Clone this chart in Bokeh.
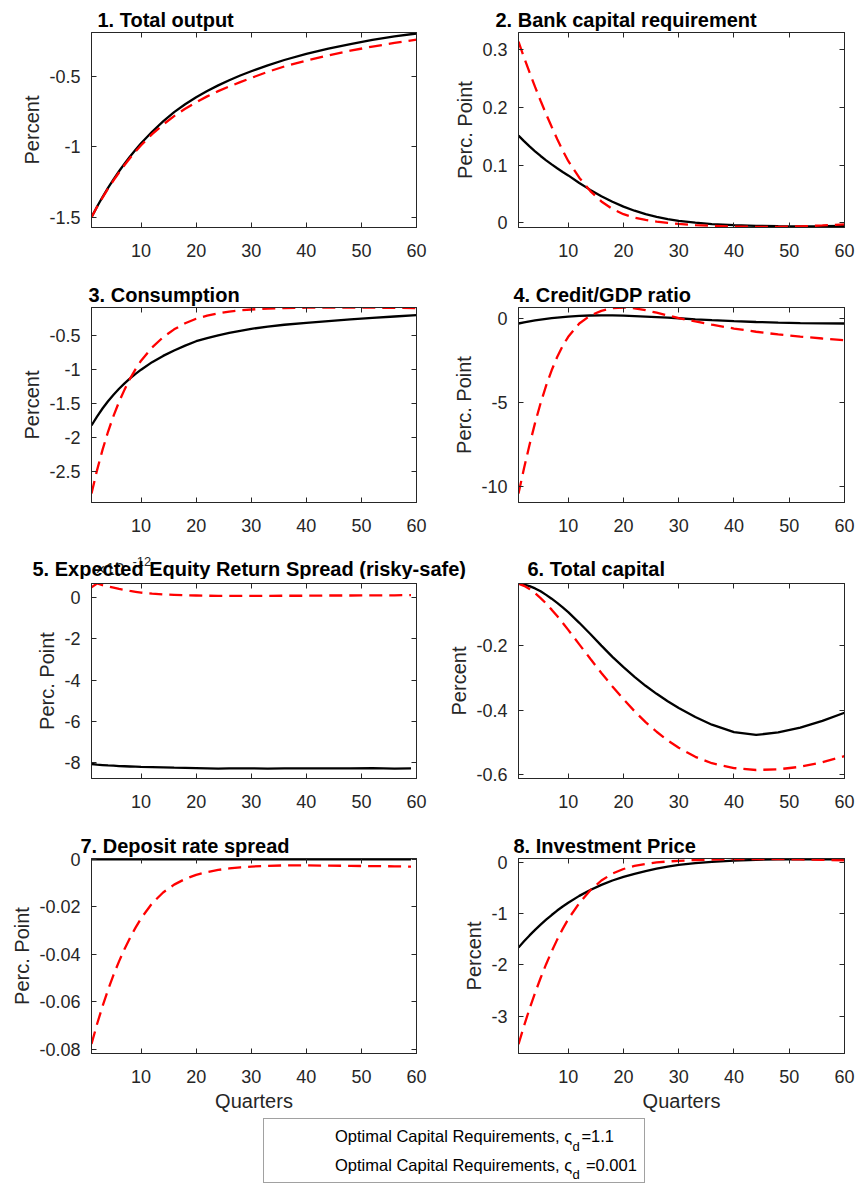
from bokeh.plotting import figure
from bokeh.models import Range1d, LinearAxis, FixedTicker, Legend, LegendItem, Label
from bokeh.layouts import column, row
from bokeh.embed import file_html
from bokeh.resources import INLINE

# ---------------- data ----------------
quarters = [1, 2, 3, 4, 5, 6, 7, 8, 9, 10, 12, 14, 16, 18, 20, 22, 24, 26, 28, 30,
            33, 36, 40, 44, 48, 52, 56, 60]
quarters_to59 = [1, 2, 3, 4, 5, 6, 7, 8, 9, 10, 12, 14, 16, 18, 20, 22, 24, 26, 28, 30,
                 33, 36, 40, 44, 48, 52, 56, 59]

output_b = [-1.5, -1.426, -1.357, -1.292, -1.231, -1.174, -1.12, -1.069, -1.021, -0.976,
            -0.894, -0.82, -0.755, -0.699, -0.649, -0.605, -0.565, -0.529, -0.495, -0.465,
            -0.423, -0.385, -0.342, -0.305, -0.272, -0.243, -0.218, -0.197]
output_r = [-1.5, -1.428, -1.361, -1.298, -1.239, -1.183, -1.13, -1.08, -1.033, -0.99,
            -0.911, -0.843, -0.783, -0.731, -0.684, -0.643, -0.606, -0.573, -0.542, -0.512,
            -0.469, -0.431, -0.389, -0.352, -0.319, -0.29, -0.264, -0.24]

capreq_b = [0.151, 0.1412, 0.1321, 0.1236, 0.1156, 0.1081, 0.101, 0.0943, 0.088, 0.082,
            0.069, 0.057, 0.046, 0.0365, 0.028, 0.021, 0.015, 0.0105, 0.0065, 0.0035, 0.0003,
            -0.002, -0.004, -0.0052, -0.0058, -0.006, -0.0058, -0.0053]
capreq_r = [0.313, 0.286, 0.26, 0.235, 0.211, 0.188, 0.166, 0.145, 0.125, 0.107, 0.078,
            0.055, 0.037, 0.024, 0.015, 0.009, 0.005, 0.002, 0.0, -0.0018, -0.0038, -0.0052,
            -0.0064, -0.0069, -0.0068, -0.006, -0.0045, -0.0025]

cons_b = [-1.823, -1.692, -1.574, -1.467, -1.371, -1.284, -1.205, -1.132, -1.066, -1.005,
          -0.895, -0.803, -0.723, -0.652, -0.588, -0.542, -0.502, -0.467, -0.435, -0.407,
          -0.373, -0.347, -0.32, -0.293, -0.269, -0.247, -0.226, -0.206]
cons_r = [-2.82, -2.48, -2.18, -1.915, -1.682, -1.477, -1.297, -1.137, -0.997, -0.874,
          -0.679, -0.529, -0.414, -0.325, -0.259, -0.214, -0.18, -0.154, -0.135, -0.123,
          -0.11, -0.102, -0.097, -0.095, -0.095, -0.096, -0.099, -0.102]

credit_b = [-0.3, -0.235, -0.175, -0.12, -0.07, -0.025, 0.015, 0.05, 0.08, 0.106, 0.15, 0.175,
            0.183, 0.178, 0.163, 0.14, 0.112, 0.08, 0.046, 0.012, -0.05, -0.1, -0.16, -0.21,
            -0.25, -0.275, -0.29, -0.3]
credit_r = [-10.4, -8.9, -7.5, -6.2, -5.03, -3.99, -3.08, -2.29, -1.63, -1.09, -0.3, 0.18,
            0.45, 0.62, 0.65, 0.6, 0.49, 0.34, 0.18, 0.02, -0.18, -0.37, -0.6, -0.79, -0.95,
            -1.08, -1.19, -1.29]

# expected equity return spread, in units of 1e-12
spread_b = [-8.05, -8.08, -8.1, -8.12, -8.13, -8.15, -8.16, -8.17, -8.18, -8.19, -8.2, -8.21,
            -8.23, -8.24, -8.25, -8.26, -8.27, -8.26, -8.26, -8.26, -8.27, -8.26, -8.26, -8.26,
            -8.26, -8.25, -8.27, -8.26]
spread_r = [0.48, 0.66, 0.58, 0.52, 0.46, 0.4, 0.35, 0.3, 0.26, 0.22, 0.17, 0.13, 0.11, 0.09,
            0.08, 0.07, 0.06, 0.06, 0.06, 0.06, 0.06, 0.07, 0.07, 0.08, 0.08, 0.09, 0.09, 0.1]

capital_b = [-0.006, -0.009, -0.014, -0.021, -0.03, -0.041, -0.053, -0.066, -0.08, -0.095,
             -0.128, -0.163, -0.199, -0.234, -0.266, -0.296, -0.324, -0.349, -0.372, -0.393,
             -0.421, -0.445, -0.468, -0.477, -0.469, -0.454, -0.433, -0.408]
capital_r = [-0.006, -0.013, -0.023, -0.036, -0.051, -0.068, -0.087, -0.107, -0.128, -0.15,
             -0.195, -0.24, -0.284, -0.326, -0.366, -0.403, -0.437, -0.467, -0.494, -0.517,
             -0.545, -0.565, -0.58, -0.586, -0.584, -0.576, -0.562, -0.543]

deposit_b = [0.0] * 28
deposit_r = [-0.0777, -0.0694, -0.0618, -0.0549, -0.0486, -0.0429, -0.0377, -0.033, -0.0287,
             -0.0248, -0.0185, -0.0139, -0.0106, -0.0082, -0.0065, -0.0053, -0.0044, -0.0038,
             -0.0033, -0.003, -0.0027, -0.0025, -0.0025, -0.0026, -0.0027, -0.0028, -0.0029,
             -0.003]

invprice_b = [-1.66, -1.538, -1.423, -1.315, -1.213, -1.116, -1.024, -0.937, -0.858, -0.785,
              -0.65, -0.535, -0.435, -0.35, -0.28, -0.22, -0.165, -0.12, -0.08, -0.045, -0.01,
              0.015, 0.04, 0.055, 0.062, 0.065, 0.065, 0.063]
invprice_r = [-3.55, -3.19, -2.855, -2.545, -2.255, -1.985, -1.735, -1.505, -1.295, -1.105,
              -0.79, -0.54, -0.35, -0.215, -0.125, -0.065, -0.025, 0.003, 0.022, 0.035, 0.05,
              0.06, 0.067, 0.07, 0.068, 0.062, 0.053, 0.042]

titles = ["1. Total output", "2. Bank capital requirement", "3. Consumption",
          "4. Credit/GDP ratio", "5. Expected Equity Return Spread (risky-safe)",
          "6. Total capital", "7. Deposit rate spread", "8. Investment Price"]
ylabels = ["Percent", "Perc. Point", "Percent", "Perc. Point", "Perc. Point", "Percent",
           "Perc. Point", "Percent"]
xlabel = "Quarters"
x_ticks = [10, 20, 30, 40, 50, 60]
x_tick_labels = ["10", "20", "30", "40", "50", "60"]
y_ticks = [[-1.5, -1, -0.5], [0, 0.1, 0.2, 0.3], [-2.5, -2, -1.5, -1, -0.5], [-10, -5, 0],
           [-8, -6, -4, -2, 0], [-0.6, -0.4, -0.2], [-0.08, -0.06, -0.04, -0.02, 0],
           [-3, -2, -1, 0]]
y_tick_labels = [["-1.5", "-1", "-0.5"], ["0", "0.1", "0.2", "0.3"],
                 ["-2.5", "-2", "-1.5", "-1", "-0.5"], ["-10", "-5", "0"],
                 ["-8", "-6", "-4", "-2", "0"], ["-0.6", "-0.4", "-0.2"],
                 ["-0.08", "-0.06", "-0.04", "-0.02", "0"], ["-3", "-2", "-1", "0"]]
y_limits = [(-1.573, -0.19), (-0.008, 0.329), (-2.951, -0.094), (-10.93, 0.65),
            (-8.75, 0.66), (-0.6125, -0.0057), (-0.0817, 0.0004), (-3.73, 0.08)]
x_limits = (1, 60)
legend_labels = ["Optimal Capital Requirements, \u03c2  =1.1",
                 "Optimal Capital Requirements, \u03c2   =0.001"]
legend_subscript = "d"
exponent_text = ("\u00d710", "-12")

series = [(quarters, output_b, output_r), (quarters, capreq_b, capreq_r),
          (quarters, cons_b, cons_r), (quarters, credit_b, credit_r),
          (quarters_to59, spread_b, spread_r), (quarters, capital_b, capital_r),
          (quarters_to59, deposit_b, deposit_r), (quarters, invprice_b, invprice_r)]

# ---------------- style / layout ----------------
FONT = "Liberation Sans"
AX = "#262626"
TITLE_X = [97, 495, 88, 513, 32, 527, 80, 513]   # page x of each title's left edge
COL_X = [0, 430]
COL_W = [430, 425]
COL_LEFT = [91, 88]
COL_RIGHT = [14, 11]
PANEL_TOP = [32, 28, 4, 28]
STRIP3_H = 25          # title strip above row 3 (its long title spans both columns)
FRAME_H = 195
PANEL_BOTTOM = [52, 52, 52, 62]
LEG_H = 68
LW = 2.3
DASH = "13 7"
BASELINE_SHIFT = 7     # label y -> alphabetic baseline correction
TITLE_STANDOFF = 4


def make_panel(i):
    col = i % 2
    rw = i // 2
    h = PANEL_TOP[rw] + FRAME_H + PANEL_BOTTOM[rw]
    kw = {}
    if rw != 2:
        kw["title"] = titles[i]
    p = figure(width=COL_W[col], height=h, x_range=Range1d(*x_limits),
               y_range=Range1d(*y_limits[i]), output_backend="svg", toolbar_location=None,
               min_border_left=COL_LEFT[col], min_border_right=COL_RIGHT[col],
               min_border_top=PANEL_TOP[rw], min_border_bottom=PANEL_BOTTOM[rw], **kw)
    if rw != 2:
        p.title.align = "left"
        p.title.offset = TITLE_X[i] - (COL_X[col] + COL_LEFT[col])
        p.title.text_font = FONT
        p.title.text_font_size = "20px"
        p.title.text_font_style = "bold"
        p.title.text_color = "black"
        p.title.standoff = TITLE_STANDOFF
    p.grid.visible = False
    p.outline_line_color = AX
    p.outline_line_alpha = 1
    p.background_fill_color = "white"
    p.border_fill_color = "white"

    xs, yb, yr = series[i]
    p.line(xs, yb, line_color="black", line_width=LW)
    p.line(xs, yr, line_color="red", line_width=LW, line_dash=DASH)

    xa = p.xaxis[0]
    xa.ticker = FixedTicker(ticks=x_ticks)
    xa.major_label_overrides = dict(zip(x_ticks, x_tick_labels))
    ya = p.yaxis[0]
    ya.ticker = FixedTicker(ticks=y_ticks[i])
    ya.major_label_overrides = dict(zip(y_ticks[i], y_tick_labels[i]))
    ya.axis_label = ylabels[i]
    if rw == 3:
        xa.axis_label = xlabel
    for ax in (xa, ya):
        ax.major_tick_in = 5
        ax.major_tick_out = 0
        ax.minor_tick_line_color = None
        ax.axis_line_color = AX
        ax.major_tick_line_color = AX
        ax.major_label_text_font = FONT
        ax.major_label_text_font_size = "18px"
        ax.major_label_text_color = AX
        ax.axis_label_text_font = FONT
        ax.axis_label_text_font_size = "20px"
        ax.axis_label_text_font_style = "normal"
        ax.axis_label_text_color = AX
    ya.major_label_standoff = 11
    ya.axis_label_standoff = 3
    xa.major_label_standoff = 16
    xa.axis_label_standoff = 4

    for ticks, side in ((y_ticks[i], "right"), (x_ticks, "above")):
        mirror = LinearAxis(ticker=FixedTicker(ticks=ticks), major_label_text_font_size="1px",
                            major_label_text_color=None, major_label_standoff=0,
                            major_tick_in=5, major_tick_out=0, minor_tick_line_color=None,
                            axis_line_color=AX, major_tick_line_color=AX)
        p.add_layout(mirror, side)
    return p


def make_strip():
    s = figure(width=sum(COL_W), height=STRIP3_H, output_backend="svg",
               toolbar_location=None, x_axis_type=None, y_axis_type=None, min_border=0,
               x_range=Range1d(0, 1), y_range=Range1d(0, 1))
    s.grid.visible = False
    s.outline_line_color = None
    s.add_layout(Label(x=95, y=10, x_units="screen", y_units="screen",
                       text=exponent_text[0], text_font=FONT, text_font_size="17px",
                       text_color=AX, text_baseline="alphabetic"))
    s.add_layout(Label(x=132, y=18, x_units="screen", y_units="screen",
                       text=exponent_text[1], text_font=FONT, text_font_size="13px",
                       text_color=AX, text_baseline="alphabetic"))
    for i in (4, 5):
        s.add_layout(Label(x=TITLE_X[i], y=PANEL_TOP[2] + BASELINE_SHIFT, x_units="screen",
                           y_units="screen", text=titles[i], text_font=FONT,
                           text_font_size="20px", text_font_style="bold",
                           text_color="black", text_baseline="alphabetic"))
    return s


panels = [make_panel(i) for i in range(8)]
strip3 = make_strip()

# ---------------- legend ----------------
lf = figure(width=sum(COL_W), height=LEG_H, output_backend="svg", toolbar_location=None,
            x_axis_type=None, y_axis_type=None, min_border=0,
            x_range=Range1d(0, 1), y_range=Range1d(0, 1))
lf.grid.visible = False
lf.outline_line_color = None
r1 = lf.line([], [], line_color="black", line_width=LW)
r2 = lf.line([], [], line_color="red", line_width=LW, line_dash="15 14")
leg = Legend(items=[LegendItem(label=legend_labels[0], renderers=[r1]),
                    LegendItem(label=legend_labels[1], renderers=[r2])],
             location=(263, LEG_H - 5 - 63), padding=7, spacing=9, margin=0,
             glyph_width=53, glyph_height=20, label_height=20, label_standoff=11,
             label_text_font=FONT, label_text_font_size="16.5px", label_text_color="black",
             border_line_color="#444444", border_line_width=1, background_fill_alpha=0)
lf.add_layout(leg)
for yy in (37, 9):
    lf.add_layout(Label(x=572, y=yy, x_units="screen", y_units="screen",
                        text=legend_subscript, text_font=FONT, text_font_size="13px",
                        text_color="black", text_baseline="alphabetic"))

layout = column(row(panels[0], panels[1], spacing=0),
                row(panels[2], panels[3], spacing=0),
                strip3, row(panels[4], panels[5], spacing=0),
                row(panels[6], panels[7], spacing=0),
                lf, spacing=0)

open("out.html", "w").write(file_html(layout, INLINE))
